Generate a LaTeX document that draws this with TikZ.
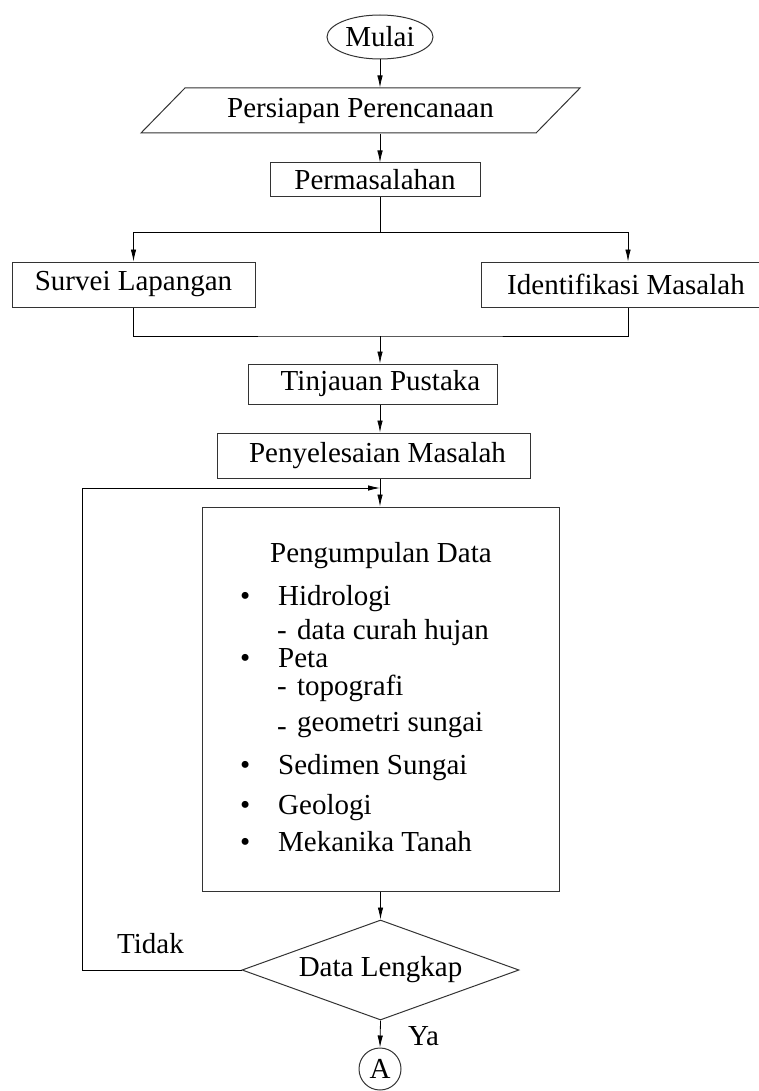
\documentclass[tikz,border=0pt]{standalone}
\usepackage{fontspec}
\setmainfont{Liberation Serif}
\usetikzlibrary{shapes.geometric}
\usetikzlibrary{arrows.meta}
\tikzstyle{box}=[draw=black!80, line width=1pt, inner sep=0pt]
\tikzstyle{process}=[box, rectangle]
\tikzstyle{flow}=[line width=0.8pt, -{Latex[length=12pt,width=5.5pt]}]
\tikzstyle{line}=[line width=0.8pt]
\tikzstyle{item}=[anchor=base west, inner sep=0pt]

\begin{document}
\begin{tikzpicture}[x=1pt, y=-1pt, font=\fontsize{29}{35}\selectfont]
  \useasboundingbox (0,0) rectangle (759,1091);
  % blocks
  \node[box, ellipse, minimum width=106pt, minimum height=44pt]
    (mulai) at (380,37) {Mulai};
  \node[box, trapezium, trapezium left angle=30, trapezium right angle=150,
        trapezium stretches body, minimum width=439pt, minimum height=45pt]
    (persiapan) at (360.5,110.5) {Persiapan Perencanaan};
  \node[process, minimum width=210pt, minimum height=34pt]
    (permasalahan) at (375,180) {Permasalahan};
  \node[process, minimum width=243pt, minimum height=45pt]
    (survei) at (133.5,284.5) {Survei Lapangan};
  \node[process, minimum width=294pt, minimum height=45pt]
    (identifikasi) at (628,284.5) {\hspace{-4pt}Identifikasi Masalah\hspace{4pt}};
  \node[process, minimum width=249pt, minimum height=40pt]
    (tinjauan) at (372.5,384) {\hspace{16pt}Tinjauan Pustaka};
  \node[process, minimum width=313pt, minimum height=45pt]
    (penyelesaian) at (373.5,455.5) {\hspace{8pt}Penyelesaian Masalah};
  \node[process, minimum width=357pt, minimum height=384pt]
    (data) at (380.5,699) {};
  \node[box, diamond, aspect=2.77, minimum width=277pt, minimum height=100pt]
    (lengkap) at (380.5,970) {\raisebox{-6pt}{Data Lengkap}};
  \node[box, circle, minimum size=42pt]
    (a) at (380,1069) {A};

  % isi kotak data
  \node[item] (judul) at (270,562) {Pengumpulan Data};
  \node[item] (hidrologi) at (240,605) {\makebox[38pt][l]{\textbullet}Hidrologi};
  \node[item] (curah) at (277,639) {\makebox[20pt][l]{-}data curah hujan};
  \node[item] (peta) at (240,667) {\makebox[38pt][l]{\textbullet}Peta};
  \node[item] (topografi) at (277,695) {\makebox[20pt][l]{-}topografi};
  \node[item] (geometri) at (277,731) {\makebox[20pt][l]{\raisebox{-4pt}{-}}geometri sungai};
  \node[item] (sedimen) at (240,774) {\makebox[38pt][l]{\textbullet}Sedimen Sungai};
  \node[item] (geologi) at (240,814) {\makebox[38pt][l]{\textbullet}Geologi};
  \node[item] (mekanika) at (240,851) {\makebox[38pt][l]{\textbullet}Mekanika Tanah};

  \node[item] (tidak) at (117,953) {Tidak};
  \node[item] (ya) at (408,1045) {Ya};

  % connectors
  \coordinate (pisah) at (380,232);
  \coordinate (gabung) at (380,336);
  \coordinate (balik) at (380,488);
  \draw[flow] (mulai) -- (mulai.south |- persiapan.north);
  \draw[flow] (mulai.south |- persiapan.south) -- (mulai.south |- permasalahan.north);
  \draw[line] (mulai.south |- permasalahan.south) -- (pisah);
  \draw[flow] (pisah) -| (survei.north);
  \draw[flow] (pisah) -| (identifikasi.north);
  \draw[line] (survei.south) |- (gabung) -| (identifikasi.south);
  \draw[flow] (gabung) -- (gabung |- tinjauan.north);
  \draw[flow] (gabung |- tinjauan.south) -- (gabung |- penyelesaian.north);
  \draw[flow] (gabung |- penyelesaian.south) -- (gabung |- data.north);
  \draw[flow] (data.south -| lengkap) -- (lengkap.north);
  \draw[flow] (lengkap.west) -- ++(-159,0) |- (balik);
  \draw[flow] (lengkap.south) -- (a.north);
\end{tikzpicture}
\end{document}
